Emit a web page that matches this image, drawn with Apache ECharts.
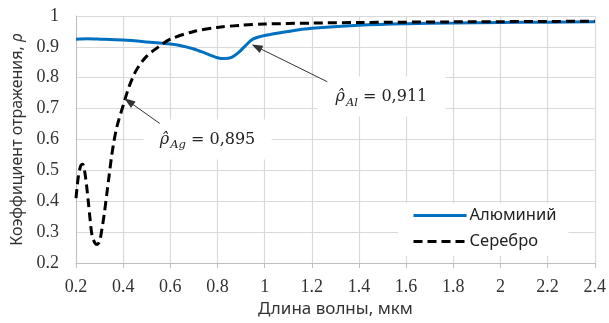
<!DOCTYPE html>
<html>
<head>
<meta charset="utf-8">
<script src="https://cdn.jsdelivr.net/npm/echarts@6/dist/echarts.min.js"></script>
<style>html,body{margin:0;padding:0;background:#fff}#c{width:609px;height:323px}</style>
</head>
<body>
<div id="c"></div>
<script>
// Data
const xTicks = [0.2, 0.4, 0.6, 0.8, 1, 1.2, 1.4, 1.6, 1.8, 2, 2.2, 2.4];
const yTicks = [0.2, 0.3, 0.4, 0.5, 0.6, 0.7, 0.8, 0.9, 1];

const alX = [0.2, 0.25, 0.3, 0.4, 0.5, 0.6, 0.65, 0.7, 0.75, 0.8, 0.83, 0.86, 0.89, 0.92, 0.95, 1.0, 1.1, 1.2, 1.4, 1.6, 1.8, 2.0, 2.2, 2.4];
const alY = [0.925, 0.926, 0.925, 0.922, 0.916, 0.909, 0.903, 0.893, 0.879, 0.865, 0.862, 0.866, 0.882, 0.905, 0.925, 0.937, 0.950, 0.960, 0.970, 0.975, 0.977, 0.979, 0.980, 0.981];

const agX = [0.2, 0.21, 0.22, 0.228, 0.236, 0.245, 0.252, 0.26, 0.268, 0.28, 0.29, 0.3, 0.31, 0.32, 0.33, 0.34, 0.35, 0.36, 0.37, 0.38, 0.4, 0.42, 0.44, 0.46, 0.5, 0.55, 0.6, 0.7, 0.8, 0.9, 1.0, 1.2, 1.4, 1.8, 2.4];
const agY = [0.41, 0.48, 0.515, 0.52, 0.50, 0.45, 0.40, 0.34, 0.29, 0.265, 0.26, 0.27, 0.31, 0.36, 0.42, 0.48, 0.54, 0.59, 0.63, 0.66, 0.71, 0.76, 0.80, 0.83, 0.87, 0.90, 0.925, 0.950, 0.963, 0.970, 0.974, 0.977, 0.979, 0.981, 0.983];

const seriesNames = ['Алюминий', 'Серебро'];
const xTitle = 'Длина волны, мкм';
const yTitle = 'Коэффициент отражения, ';

// Annotations (data coordinates)
const annAl = { text: '0,911', sub: 'Al', label: [1.495, 0.739], tail: [1.266, 0.787], tip: [0.966, 0.900] };
const annAg = { text: '0,895', sub: 'Ag', label: [0.758, 0.600], tail: [0.555, 0.652], tip: [0.424, 0.723] };

const zip = (xs, ys) => xs.map((x, i) => [x, ys[i]]);

const annRich = {
  r: { fontFamily: 'DejaVu Serif', fontStyle: 'italic', fontSize: 16, color: '#222' },
  s: { fontFamily: 'DejaVu Serif', fontStyle: 'italic', fontSize: 11.5, color: '#222', padding: [12, 0, 0, 1] },
  t: { fontFamily: 'DejaVu Serif', fontSize: 16, color: '#222' }
};
function annPoint(a) {
  return {
    coord: a.label,
    symbol: 'rect', symbolSize: [128, 40],
    itemStyle: { color: '#fff' },
    label: {
      show: true, position: 'inside',
      formatter: '{r|ρ̂}{s|' + a.sub + '}{t| = ' + a.text + '}',
      rich: annRich
    }
  };
}
function annLine(a) {
  return [{ coord: a.tail, symbol: 'none' }, { coord: a.tip, symbol: 'triangle', symbolSize: [8, 11] }];
}

const chart = echarts.init(document.getElementById('c'), null, { renderer: 'canvas' });
chart.setOption({
  animation: false,
  backgroundColor: '#fff',
  grid: { left: 76, right: 13, top: 16, bottom: 59 },
  legend: {
    data: seriesNames,
    orient: 'vertical',
    left: 398, top: 203,
    padding: [4, 12, 6, 14],
    backgroundColor: '#fff',
    itemWidth: 53, itemHeight: 14, itemGap: 9,
    itemStyle: { opacity: 0 },
    lineStyle: { width: 3 },
    textStyle: { fontFamily: 'Noto Sans', fontSize: 16.5, color: '#222', padding: [0, 0, 0, -2] }
  },
  xAxis: {
    type: 'value', min: 0.2, max: 2.4, interval: 0.2,
    name: xTitle, nameLocation: 'middle', nameGap: 38,
    nameTextStyle: { fontFamily: 'Noto Sans', fontSize: 17, color: '#333' },
    axisLine: { lineStyle: { color: '#bfbfbf', width: 1 } },
    axisTick: { show: true, length: 5, lineStyle: { color: '#bfbfbf' } },
    splitLine: { show: true, lineStyle: { color: '#d9d9d9', width: 1.2 } },
    axisLabel: { fontFamily: 'Liberation Serif', fontSize: 18, color: '#333', margin: 15,
      formatter: v => String(+v.toFixed(2)) }
  },
  yAxis: {
    type: 'value', min: 0.2, max: 1, interval: 0.1,
    name: yTitle + '{i|ρ}', nameLocation: 'middle', nameGap: 51,
    nameTextStyle: { fontFamily: 'Noto Sans', fontSize: 16, color: '#333',
      rich: { i: { fontFamily: 'Noto Sans', fontStyle: 'italic', fontSize: 16, color: '#333' } } },
    axisLine: { show: true, lineStyle: { color: '#bfbfbf' } },
    axisTick: { show: false },
    splitLine: { show: true, lineStyle: { color: '#d9d9d9', width: 1.2 } },
    axisLabel: { fontFamily: 'Liberation Serif', fontSize: 18, color: '#333', margin: 17,
      formatter: v => String(+v.toFixed(2)) }
  },
  series: [
    {
      name: seriesNames[0], type: 'line', data: zip(alX, alY), smooth: 0.3,
      symbol: 'none', lineStyle: { color: '#0070C0', width: 3 }, itemStyle: { color: '#0070C0' },
      z: 2
    },
    {
      name: seriesNames[1], type: 'line', data: zip(agX, agY), smooth: 0.3,
      symbol: 'none', lineStyle: { color: '#000', width: 3, type: [9, 5] }, itemStyle: { color: '#000' },
      z: 3,
      markPoint: { silent: true, z: 10, data: [annPoint(annAl), annPoint(annAg)] },
      markLine: {
        silent: true, z: 11, animation: false,
        label: { show: false },
        lineStyle: { color: '#333', width: 1, type: 'solid' },
        data: [annLine(annAl), annLine(annAg)]
      }
    }
  ]
});
</script>
</body>
</html>
